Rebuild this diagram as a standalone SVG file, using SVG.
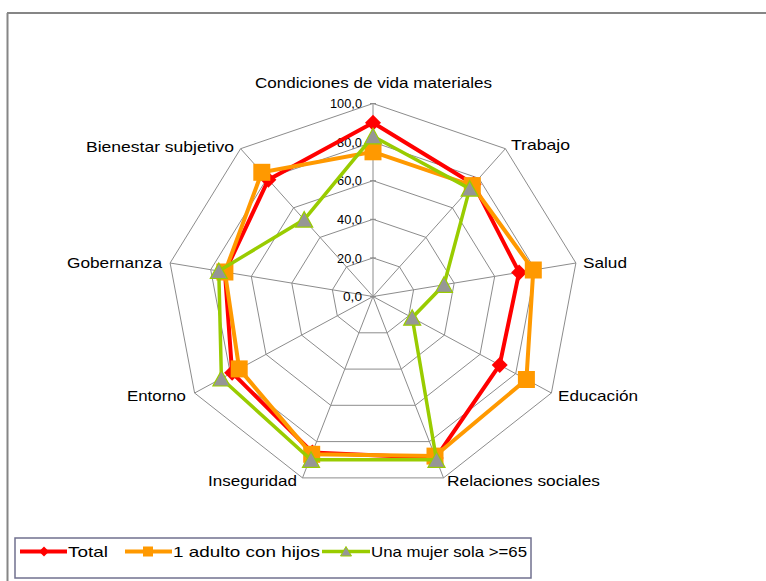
<svg xmlns="http://www.w3.org/2000/svg" xmlns:xlink="http://www.w3.org/1999/xlink" width="766" height="581" viewBox="0 0 766 581">
<style>
.grid{fill:none;stroke:#8c8c8c;stroke-width:1}
.spoke{stroke:#8c8c8c;stroke-width:1}
.lbl{font-family:"Liberation Sans",Arial,sans-serif;font-size:15px;fill:#000}
.tick{font-family:"Liberation Sans",Arial,sans-serif;font-size:13px;fill:#000;text-anchor:end}
.s-red{fill:none;stroke:#ff0000;stroke-width:4;stroke-linejoin:miter}
.s-org{fill:none;stroke:#ff9900;stroke-width:4;stroke-linejoin:miter}
.s-grn{fill:none;stroke:#99cc00;stroke-width:3.5;stroke-linejoin:miter}
</style>
<defs>
<path id="dia" d="M0,-8 L8,0 L0,8 L-8,0Z" fill="#ff0000"/>
<rect id="sq" x="-8.5" y="-8.5" width="17" height="17" fill="#ff9900"/>
<path id="tri" d="M0,-8 L8.5,7.5 L-8.5,7.5Z" fill="#969696" stroke="#99cc00" stroke-width="1.2"/>
<path id="dia-s" d="M0,-5 L5,0 L0,5 L-5,0Z" fill="#ff0000"/>
<rect id="sq-s" x="-5" y="-5" width="10" height="10" fill="#ff9900"/>
<path id="tri-s" d="M0,-5 L5.5,4.5 L-5.5,4.5Z" fill="#969696" stroke="#99cc00" stroke-width="1"/>
</defs>
<rect x="0" y="0" width="766" height="581" fill="#ffffff"/>
<g id="frame">
<path d="M7,13 H766 M7.5,13 V581" fill="none" stroke="#868686" stroke-width="2"/>
</g>
<g id="grid">
<polygon class="grid" points="373,103.5 505.4,148.7 575.9,263 551.4,393 443.5,477.9 302.5,477.9 194.6,393 170.1,263 240.6,148.7"/>
<polygon class="grid" points="373,142.1 478.9,178.3 535.3,269.7 515.7,373.7 429.4,441.6 316.6,441.6 230.3,373.7 210.7,269.7 267.1,178.3"/>
<polygon class="grid" points="373,180.7 452.4,207.8 494.7,276.4 480,354.4 415.3,405.3 330.7,405.3 266,354.4 251.3,276.4 293.6,207.8"/>
<polygon class="grid" points="373,219.3 426,237.4 454.2,283.1 444.4,335.1 401.2,369.1 344.8,369.1 301.6,335.1 291.8,283.1 320,237.4"/>
<polygon class="grid" points="373,257.9 399.5,266.9 413.6,289.8 408.7,315.8 387.1,332.8 358.9,332.8 337.3,315.8 332.4,289.8 346.5,266.9"/>
<path class="spoke" d="M373,296.5 L373,103.5 M373,296.5 L505.4,148.7 M373,296.5 L575.9,263 M373,296.5 L551.4,393 M373,296.5 L443.5,477.9 M373,296.5 L302.5,477.9 M373,296.5 L194.6,393 M373,296.5 L170.1,263 M373,296.5 L240.6,148.7"/>
<path class="spoke" d="M370,103.5 H376 M370,142.1 H376 M370,180.7 H376 M370,219.3 H376 M370,257.9 H376 M370,296.5 H376"/>
</g>
<g id="ticks">
<text class="tick" x="362" y="108" textLength="32" lengthAdjust="spacingAndGlyphs">100,0</text>
<text class="tick" x="362" y="146.5" textLength="25" lengthAdjust="spacingAndGlyphs">80,0</text>
<text class="tick" x="362" y="185" textLength="25" lengthAdjust="spacingAndGlyphs">60,0</text>
<text class="tick" x="362" y="224" textLength="25" lengthAdjust="spacingAndGlyphs">40,0</text>
<text class="tick" x="362" y="262.5" textLength="25" lengthAdjust="spacingAndGlyphs">20,0</text>
<text class="tick" x="362" y="301" textLength="19" lengthAdjust="spacingAndGlyphs">0,0</text>
</g>
<g id="axis-labels">
<text class="lbl" x="255" y="88" textLength="237" lengthAdjust="spacingAndGlyphs">Condiciones de vida materiales</text>
<text class="lbl" x="511" y="150" textLength="59" lengthAdjust="spacingAndGlyphs">Trabajo</text>
<text class="lbl" x="583" y="268" textLength="44" lengthAdjust="spacingAndGlyphs">Salud</text>
<text class="lbl" x="558" y="401" textLength="80" lengthAdjust="spacingAndGlyphs">Educación</text>
<text class="lbl" x="447" y="486" textLength="153" lengthAdjust="spacingAndGlyphs">Relaciones sociales</text>
<text class="lbl" x="208" y="486" textLength="89" lengthAdjust="spacingAndGlyphs">Inseguridad</text>
<text class="lbl" x="127" y="401" textLength="59" lengthAdjust="spacingAndGlyphs">Entorno</text>
<text class="lbl" x="67" y="268" textLength="95" lengthAdjust="spacingAndGlyphs">Gobernanza</text>
<text class="lbl" x="86" y="152" textLength="148" lengthAdjust="spacingAndGlyphs">Bienestar subjetivo</text>
</g>
<g id="series-total">
<polygon class="s-red" points="373,122.8 473.6,184.2 519.1,272.4 499.7,365 435.7,457.9 312.4,452.5 232.1,372.7 224.9,272 268.4,179.7"/>
<use href="#dia" x="373" y="122.8"/><use href="#dia" x="473.6" y="184.2"/><use href="#dia" x="519.1" y="272.4"/><use href="#dia" x="499.7" y="365"/><use href="#dia" x="435.7" y="457.9"/><use href="#dia" x="312.4" y="452.5"/><use href="#dia" x="232.1" y="372.7"/><use href="#dia" x="224.9" y="272"/><use href="#dia" x="268.4" y="179.7"/>
</g>
<g id="series-adulto">
<polygon class="s-org" points="373,151.8 472.3,185.6 533.3,270 526.4,379.5 435,456.1 311.7,454.3 239.2,368.9 224.9,272 261.8,172.3"/>
<use href="#sq" x="373" y="151.8"/><use href="#sq" x="472.3" y="185.6"/><use href="#sq" x="533.3" y="270"/><use href="#sq" x="526.4" y="379.5"/><use href="#sq" x="435" y="456.1"/><use href="#sq" x="311.7" y="454.3"/><use href="#sq" x="239.2" y="368.9"/><use href="#sq" x="224.9" y="272"/><use href="#sq" x="261.8" y="172.3"/>
</g>
<g id="series-mujer">
<polygon class="s-grn" points="373,136.3 469.7,188.6 444,284.8 412.2,317.7 436.5,459.8 311,459.8 221.4,378.5 218.8,271 304.2,219.6"/>
<use href="#tri" x="373" y="136.3"/><use href="#tri" x="469.7" y="188.6"/><use href="#tri" x="444" y="284.8"/><use href="#tri" x="412.2" y="317.7"/><use href="#tri" x="436.5" y="459.8"/><use href="#tri" x="311" y="459.8"/><use href="#tri" x="221.4" y="378.5"/><use href="#tri" x="218.8" y="271"/><use href="#tri" x="304.2" y="219.6"/>
</g>
<g id="legend">
<rect x="15" y="538" width="516" height="40" fill="#ffffff" stroke="#70708f" stroke-width="1.5"/>
<path d="M20,551.5 H67" stroke="#ff0000" stroke-width="4"/>
<use href="#dia-s" x="44" y="551.5"/>
<text class="lbl" x="68" y="557" textLength="40" lengthAdjust="spacingAndGlyphs">Total</text>
<path d="M125,551.5 H172" stroke="#ff9900" stroke-width="4"/>
<use href="#sq-s" x="148" y="551.5"/>
<text class="lbl" x="173" y="557" textLength="147" lengthAdjust="spacingAndGlyphs">1 adulto con hijos</text>
<path d="M322,551.5 H370" stroke="#99cc00" stroke-width="3.5"/>
<use href="#tri-s" x="346" y="551.5"/>
<text class="lbl" x="371" y="557" textLength="156" lengthAdjust="spacingAndGlyphs">Una mujer sola &gt;=65</text>
</g>
</svg>
